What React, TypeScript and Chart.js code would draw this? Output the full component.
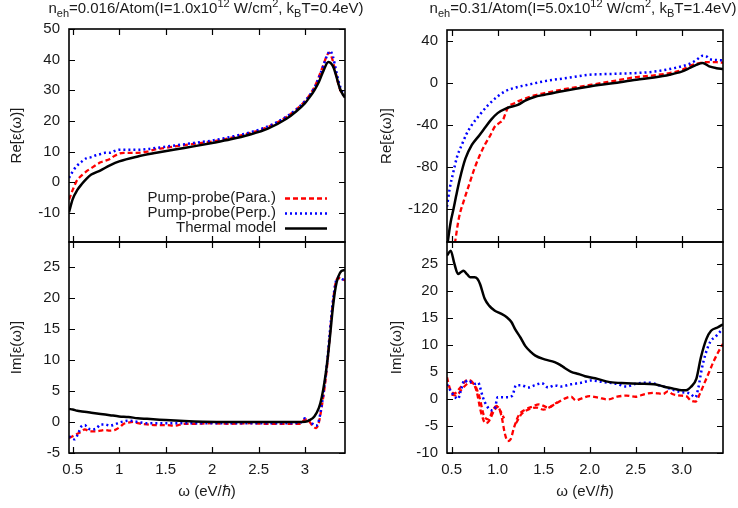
import React, { useEffect, useRef } from "react";
import { Chart, registerables } from "chart.js";
Chart.register(...registerables);

const CW = 738;
const CH = 508;
const FONT = "'Liberation Sans', Arial, Helvetica, sans-serif";

// ---------- tick labels ----------
const LEFT_X_TICKS = [0.5, 1, 1.5, 2, 2.5, 3];
const RIGHT_X_TICKS = [0.5, 1.0, 1.5, 2.0, 2.5, 3.0];
const LT_Y_TICKS = [-10, 0, 10, 20, 30, 40, 50];
const LB_Y_TICKS = [-5, 0, 5, 10, 15, 20, 25];
const RT_Y_TICKS = [-120, -80, -40, 0, 40];
const RB_Y_TICKS = [-10, -5, 0, 5, 10, 15, 20, 25];

// ---------- left top: Re, low excitation ----------
const LT_THERMAL_X = [0.46, 0.5, 0.55, 0.6, 0.65, 0.7, 0.8, 0.9, 1.0, 1.2, 1.4, 1.6, 1.8, 2.0, 2.2, 2.4, 2.6, 2.8, 2.9, 3.0, 3.05, 3.1, 3.15, 3.2, 3.25, 3.28, 3.31, 3.34, 3.37, 3.4, 3.43];
const LT_THERMAL_Y = [-9.8, -5.5, -2.5, -0.5, 1.2, 2.5, 3.9, 5.5, 6.8, 8.4, 9.6, 10.7, 11.7, 12.8, 14.0, 15.5, 17.5, 20.7, 23.0, 25.8, 27.8, 30.0, 32.8, 36.5, 39.2, 38.8, 37.2, 34.2, 31.0, 29.0, 27.6];
const LT_PARA_X = [0.46, 0.5, 0.54, 0.6, 0.65, 0.7, 0.75, 0.8, 0.85, 0.9, 0.95, 1.0, 1.05, 1.1, 1.2, 1.3, 1.4, 1.5, 1.6, 1.8, 2.0, 2.2, 2.4, 2.6, 2.8, 2.9, 3.0, 3.05, 3.1, 3.15, 3.2, 3.23, 3.26, 3.29, 3.32, 3.35, 3.38, 3.43];
const LT_PARA_Y = [-5.7, -2.5, 0.3, 2.3, 3.6, 4.6, 5.6, 6.5, 7.0, 7.6, 8.6, 9.4, 9.6, 9.6, 9.6, 10.0, 10.8, 11.2, 11.7, 12.5, 13.3, 14.5, 16.0, 18.0, 21.3, 23.6, 26.5, 28.5, 31.0, 34.5, 38.5, 41.0, 42.3, 40.5, 37.0, 33.0, 30.0, 27.8];
const LT_PERP_X = [0.46, 0.5, 0.54, 0.6, 0.65, 0.7, 0.75, 0.8, 0.85, 0.9, 0.95, 1.0, 1.1, 1.2, 1.3, 1.4, 1.5, 1.6, 1.8, 2.0, 2.2, 2.4, 2.6, 2.8, 2.9, 3.0, 3.05, 3.1, 3.15, 3.2, 3.24, 3.27, 3.3, 3.33, 3.36, 3.4, 3.43];
const LT_PERP_Y = [1.4, 3.5, 5.2, 6.8, 7.9, 8.2, 8.8, 9.2, 9.6, 9.6, 10.2, 10.6, 10.6, 10.6, 10.8, 11.2, 11.6, 12.0, 12.8, 13.6, 14.8, 16.2, 18.2, 21.4, 23.6, 26.5, 28.4, 30.8, 34.2, 38.3, 41.5, 42.8, 41.0, 37.0, 33.0, 29.5, 27.8];

// ---------- left bottom: Im, low excitation ----------
const LB_THERMAL_X = [0.46, 0.5, 0.55, 0.6, 0.65, 0.7, 0.8, 0.9, 1.0, 1.1, 1.2, 1.3, 1.4, 1.5, 1.7, 1.9, 2.2, 2.6, 2.9, 3.0, 3.05, 3.1, 3.15, 3.18, 3.21, 3.24, 3.27, 3.3, 3.33, 3.36, 3.39, 3.43];
const LB_THERMAL_Y = [2.1, 2.0, 1.8, 1.7, 1.6, 1.5, 1.3, 1.1, 0.9, 0.8, 0.6, 0.5, 0.4, 0.3, 0.15, 0.05, 0, 0, 0, 0.05, 0.3, 0.9, 2.3, 4.0, 6.5, 9.8, 14.0, 18.5, 21.8, 23.5, 24.3, 24.5];
const LB_PARA_X = [0.46, 0.5, 0.55, 0.6, 0.63, 0.68, 0.75, 0.8, 0.85, 0.9, 0.95, 1.0, 1.05, 1.1, 1.15, 1.2, 1.3, 1.4, 1.5, 1.6, 1.7, 1.8, 2.0, 2.2, 2.4, 2.6, 2.8, 2.95, 3.0, 3.04, 3.08, 3.12, 3.15, 3.18, 3.21, 3.24, 3.27, 3.3, 3.33, 3.36, 3.4, 3.43];
const LB_PARA_Y = [-2.6, -2.3, -1.9, -1.5, -1.2, -1.5, -1.5, -1.4, -1.3, -1.4, -1.3, -0.9, -0.3, -0.1, 0.0, -0.2, -0.4, -0.5, -0.5, -0.6, -0.3, -0.3, -0.2, -0.3, -0.2, -0.3, -0.3, -0.3, 0.4, 0.2, -0.6, -1.0, 0.0, 2.5, 5.5, 9.4, 14.5, 19.2, 22.5, 23.2, 23.0, 22.8];
const LB_PERP_X = [0.46, 0.49, 0.52, 0.56, 0.6, 0.63, 0.66, 0.7, 0.75, 0.8, 0.85, 0.9, 0.95, 1.0, 1.05, 1.1, 1.2, 1.3, 1.5, 1.7, 2.0, 2.4, 2.8, 2.95, 3.0, 3.04, 3.08, 3.12, 3.15, 3.18, 3.21, 3.24, 3.27, 3.3, 3.33, 3.36, 3.4, 3.43];
const LB_PERP_Y = [-2.3, -2.6, -2.8, -1.8, -0.6, -0.5, -1.0, -1.2, -1.1, -0.4, -0.4, -0.6, -0.4, -0.1, 0.1, 0.2, 0.0, -0.2, -0.2, -0.2, -0.2, -0.2, -0.2, -0.1, 0.6, 0.3, -0.3, -0.6, 0.3, 2.8, 6.0, 10.0, 15.0, 19.5, 22.5, 23.3, 23.0, 22.8];

// ---------- right top: Re, high excitation ----------
const RT_THERMAL_X = [0.44, 0.46, 0.49, 0.52, 0.55, 0.59, 0.65, 0.72, 0.8, 0.86, 0.93, 1.0, 1.1, 1.22, 1.3, 1.4, 1.51, 1.7, 2.0, 2.25, 2.51, 2.7, 2.87, 3.0, 3.09, 3.16, 3.23, 3.3, 3.38, 3.45];
const RT_THERMAL_Y = [-165, -150, -132, -120, -107, -91, -72, -59, -50, -43, -35, -28.8, -24, -20.9, -17, -13.5, -11.4, -8, -3.5, -0.5, 2.9, 5.0, 7.6, 10.5, 14, 17, 18.7, 15.5, 13.8, 13.0];
const RT_PARA_X = [0.5, 0.54, 0.58, 0.64, 0.7, 0.75, 0.8, 0.86, 0.92, 0.97, 1.02, 1.06, 1.09, 1.12, 1.17, 1.22, 1.3, 1.4, 1.51, 1.7, 2.02, 2.25, 2.51, 2.7, 2.87, 3.0, 3.09, 3.16, 3.23, 3.3, 3.38, 3.45];
const RT_PARA_Y = [-175, -150, -128, -110, -94, -81, -70, -59, -50, -41.5, -38, -35, -28, -22.5, -20, -17.7, -15, -12, -9.8, -6.5, -1.9, 1.5, 5.4, 7.0, 9.2, 12, 16, 18, 19.3, 19.6, 19.5, 19.0];
const RT_PERP_X = [0.45, 0.48, 0.52, 0.56, 0.61, 0.66, 0.72, 0.8, 0.9, 1.0, 1.08, 1.2, 1.33, 1.5, 1.75, 2.0, 2.25, 2.51, 2.7, 2.87, 3.0, 3.09, 3.16, 3.23, 3.27, 3.3, 3.38, 3.45];
const RT_PERP_Y = [-117.5, -100, -84.3, -70, -59, -49, -40, -31, -20.9, -13, -8.2, -4.5, -1.9, 1.3, 4.5, 7.6, 8.4, 9.2, 10.5, 13, 15.5, 18, 21.5, 25.7, 25, 22.6, 21.5, 21.2];

// ---------- right bottom: Im, high excitation ----------
const RB_THERMAL_X = [0.45, 0.49, 0.53, 0.57, 0.6, 0.63, 0.67, 0.7, 0.75, 0.78, 0.81, 0.86, 0.91, 0.97, 1.03, 1.1, 1.15, 1.19, 1.25, 1.3, 1.36, 1.41, 1.51, 1.62, 1.68, 1.73, 1.8, 1.88, 1.95, 2.06, 2.22, 2.4, 2.54, 2.7, 2.76, 2.85, 2.91, 3.0, 3.05, 3.1, 3.16, 3.21, 3.27, 3.32, 3.39, 3.45];
const RB_THERMAL_Y = [26.5, 27.4, 25.0, 23.1, 23.4, 23.7, 23.0, 22.5, 22.5, 22.2, 21.2, 18.5, 17.2, 16.3, 15.8, 15.1, 14.2, 12.9, 11.3, 9.8, 8.7, 8.0, 7.3, 6.8, 6.3, 5.7, 5.0, 4.6, 4.2, 3.8, 3.1, 2.9, 2.8, 2.7, 2.5, 2.1, 1.9, 1.6, 1.6, 2.2, 3.7, 7.7, 11.1, 12.6, 13.2, 13.8];
const RB_PERP_X = [0.45, 0.5, 0.54, 0.57, 0.6, 0.64, 0.68, 0.72, 0.76, 0.79, 0.81, 0.84, 0.88, 0.93, 0.97, 1.0, 1.06, 1.11, 1.16, 1.2, 1.26, 1.33, 1.4, 1.48, 1.55, 1.62, 1.69, 1.8, 1.91, 2.02, 2.15, 2.29, 2.4, 2.5, 2.65, 2.76, 2.87, 2.98, 3.09, 3.15, 3.18, 3.22, 3.26, 3.31, 3.38, 3.45];
const RB_PERP_Y = [2.7, 1.2, 0.3, 0.0, 1.5, 3.5, 3.0, 3.2, 2.8, 3.0, 2.1, 0.3, -1.2, -2.1, -1.8, 0.3, 0.3, 0.3, 0.6, 2.5, 2.5, 2.1, 2.5, 2.9, 2.1, 2.5, 2.3, 2.7, 3.0, 3.4, 3.1, 2.8, 2.3, 2.8, 3.0, 2.5, 1.9, 1.3, 1.0, 0.3, 1.9, 5.6, 8.3, 10.5, 11.7, 13.0];
const RB_PARA_X = [0.45, 0.48, 0.53, 0.6, 0.67, 0.72, 0.77, 0.82, 0.87, 0.91, 0.96, 1.0, 1.04, 1.08, 1.11, 1.14, 1.18, 1.23, 1.3, 1.38, 1.45, 1.5, 1.55, 1.62, 1.7, 1.75, 1.8, 1.85, 1.9, 2.0, 2.1, 2.2, 2.3, 2.4, 2.5, 2.6, 2.7, 2.8, 2.85, 2.9, 3.0, 3.05, 3.1, 3.15, 3.2, 3.25, 3.3, 3.35, 3.4, 3.45];
const RB_PARA_Y = [4.0, 2.0, 1.0, 2.2, 3.5, 3.2, 1.5, -2.5, -4.5, -4.0, -2.2, -1.5, -3.0, -6.5, -7.8, -7.5, -5.2, -3.0, -2.0, -1.4, -1.0, -1.3, -1.6, -1.0, -0.2, 0.2, 0.4, -0.3, 0.0, 0.5, 0.2, -0.1, 0.4, 0.6, 0.4, 0.9, 1.1, 0.9, 1.4, 0.9, 0.6, 0.5, -0.3, -0.5, 1.0, 3.0, 5.0, 7.0, 8.7, 10.2];
const RB_PARA2_X = [0.5, 0.55, 0.62, 0.7, 0.75, 0.8, 0.85, 0.9, 0.95, 0.99, 1.03, 1.07, 1.13, 1.2, 1.26, 1.33, 1.42, 1.5, 1.57, 1.65];
const RB_PARA2_Y = [0.8, 0.6, 2.0, 3.0, 2.6, 0.5, -3.0, -3.8, -2.0, -1.3, -2.2, -3.6, null, -4.5, -2.8, -2.0, -1.6, -2.0, -1.5, -0.6];

const LEGEND_LABELS = ["Pump-probe(Para.)", "Pump-probe(Perp.)", "Thermal model"];

type Seg = [string, number];
const TITLE_LEFT: Seg[] = [["n", 0], ["eh", -1], ["=0.016/Atom(I=1.0x10", 0], ["12", 1], [" W/cm", 0], ["2", 1], [", k", 0], ["B", -1], ["T=0.4eV)", 0]];
const TITLE_RIGHT: Seg[] = [["n", 0], ["eh", -1], ["=0.31/Atom(I=5.0x10", 0], ["12", 1], [" W/cm", 0], ["2", 1], [", k", 0], ["B", -1], ["T=1.4eV)", 0]];

const RED = "#ff0000";
const BLUE = "#0000ff";
const BLACK = "#000000";
const TXT = "#1a1a1a";
const FS = 15;

function pts(xs: number[], ys: (number | null)[]) {
  return xs.map((x, i) => ({ x, y: ys[i] }));
}

function redDs(xs: number[], ys: (number | null)[]) {
  return { data: pts(xs, ys), borderColor: RED, borderWidth: 2.3, borderDash: [5, 3], order: 2 };
}
function blueDs(xs: number[], ys: (number | null)[]) {
  return { data: pts(xs, ys), borderColor: BLUE, borderWidth: 2.5, borderDash: [2, 3], order: 1 };
}
function blackDs(xs: number[], ys: (number | null)[]) {
  return { data: pts(xs, ys), borderColor: BLACK, borderWidth: 2.5, order: 0 };
}

type Panel = {
  area: { l: number; t: number; r: number; b: number };
  yW: number;
  xMin: number;
  xMax: number;
  yMin: number;
  yMax: number;
  xTicks: number[];
  yTicks: number[];
  xFmt: (v: number) => string;
  showX: boolean;
  yTitle: string;
  yTitlePad: number;
  datasets: any[];
  title?: { segs: Seg[]; cx: number; y: number };
  legend?: boolean;
};

function drawRich(ctx: CanvasRenderingContext2D, segs: Seg[], cx: number, y: number) {
  const main = `${FS}px ${FONT}`;
  const small = `11px ${FONT}`;
  let total = 0;
  for (const [t, m] of segs) {
    ctx.font = m === 0 ? main : small;
    total += ctx.measureText(t).width;
  }
  let x = cx - total / 2;
  ctx.textAlign = "left";
  ctx.textBaseline = "alphabetic";
  ctx.fillStyle = TXT;
  for (const [t, m] of segs) {
    ctx.font = m === 0 ? main : small;
    const dy = m === 1 ? -6 : m === -1 ? 4 : 0;
    ctx.fillText(t, x, y + dy);
    x += ctx.measureText(t).width;
  }
}

const framePlugin = {
  id: "gnuFrame",
  afterDraw(chart: any, _args: any, opts: any) {
    const p: Panel = opts.panel;
    if (!p) return;
    const ctx = chart.ctx as CanvasRenderingContext2D;
    const { left, right, top, bottom } = chart.chartArea;
    const xs = chart.scales.x;
    const ys = chart.scales.y;
    const TL = 6;
    ctx.save();
    ctx.strokeStyle = "#000";
    ctx.lineWidth = 1.2;
    ctx.beginPath();
    for (const v of p.xTicks) {
      const px = Math.round(xs.getPixelForValue(v)) + 0.5;
      ctx.moveTo(px, top);
      ctx.lineTo(px, top + TL);
      ctx.moveTo(px, bottom);
      ctx.lineTo(px, bottom - TL);
    }
    for (const v of p.yTicks) {
      const py = Math.round(ys.getPixelForValue(v)) + 0.5;
      ctx.moveTo(left, py);
      ctx.lineTo(left + TL, py);
      ctx.moveTo(right, py);
      ctx.lineTo(right - TL, py);
    }
    ctx.stroke();
    ctx.lineWidth = 1.6;
    ctx.strokeRect(left, top, right - left, bottom - top);

    if (p.title) drawRich(ctx, p.title.segs, p.title.cx, p.title.y);

    if (p.legend) {
      const rows = [
        { label: LEGEND_LABELS[0], color: RED, dash: [5, 3], w: 2.3 },
        { label: LEGEND_LABELS[1], color: BLUE, dash: [2, 3], w: 2.5 },
        { label: LEGEND_LABELS[2], color: BLACK, dash: [], w: 2.5 },
      ];
      const ysPos = [198, 213, 228];
      ctx.font = `${FS}px ${FONT}`;
      ctx.textAlign = "right";
      ctx.textBaseline = "middle";
      rows.forEach((r, i) => {
        ctx.fillStyle = TXT;
        ctx.fillText(r.label, 276, ysPos[i]);
        ctx.beginPath();
        ctx.setLineDash(r.dash);
        ctx.strokeStyle = r.color;
        ctx.lineWidth = r.w;
        ctx.moveTo(285, ysPos[i] + 0.5);
        ctx.lineTo(327, ysPos[i] + 0.5);
        ctx.stroke();
      });
      ctx.setLineDash([]);
    }
    ctx.restore();
  },
};

function makeConfig(p: Panel): any {
  const xH = p.showX ? 50 : 0;
  return {
    type: "line",
    data: { datasets: p.datasets },
    plugins: [framePlugin],
    options: {
      animation: false,
      responsive: false,
      devicePixelRatio: 1,
      events: [],
      layout: {
        padding: {
          left: p.area.l - p.yW,
          top: p.area.t,
          right: CW - p.area.r,
          bottom: CH - p.area.b - xH,
        },
      },
      elements: {
        point: { radius: 0 },
        line: { cubicInterpolationMode: "monotone", borderCapStyle: "butt", fill: false },
      },
      plugins: {
        legend: { display: false },
        tooltip: { enabled: false },
        title: { display: false },
        gnuFrame: { panel: p },
      },
      scales: {
        x: {
          type: "linear",
          min: p.xMin,
          max: p.xMax,
          display: p.showX,
          grid: { display: false, drawTicks: false },
          border: { display: false },
          afterBuildTicks: (s: any) => {
            s.ticks = p.xTicks.map((v) => ({ value: v }));
          },
          afterFit: (s: any) => {
            s.height = xH;
          },
          ticks: {
            autoSkip: false,
            maxRotation: 0,
            padding: 8,
            color: TXT,
            font: { family: FONT, size: FS },
            callback: (v: number) => p.xFmt(v),
          },
          title: {
            display: p.showX,
            text: "ω (eV/ℏ)",
            color: TXT,
            font: { family: FONT, size: FS },
            padding: { top: 0, bottom: 2 },
          },
        },
        y: {
          type: "linear",
          min: p.yMin,
          max: p.yMax,
          grid: { display: false, drawTicks: false },
          border: { display: false },
          afterBuildTicks: (s: any) => {
            s.ticks = p.yTicks.map((v) => ({ value: v }));
          },
          afterFit: (s: any) => {
            s.width = p.yW;
          },
          ticks: {
            autoSkip: false,
            padding: 9,
            color: TXT,
            font: { family: FONT, size: FS },
            callback: (v: number) => String(v),
          },
          title: {
            display: true,
            text: p.yTitle,
            color: TXT,
            font: { family: FONT, size: FS },
            padding: { top: p.yTitlePad, bottom: 0 },
          },
        },
      },
    },
  };
}

const PANELS: Panel[] = [
  {
    area: { l: 69, t: 29, r: 345, b: 242 },
    yW: 69,
    xMin: 0.46,
    xMax: 3.43,
    yMin: -19.5,
    yMax: 50,
    xTicks: LEFT_X_TICKS,
    yTicks: LT_Y_TICKS,
    xFmt: (v) => String(v),
    showX: false,
    yTitle: "Re[ε(ω)]",
    yTitlePad: 8,
    datasets: [redDs(LT_PARA_X, LT_PARA_Y), blueDs(LT_PERP_X, LT_PERP_Y), blackDs(LT_THERMAL_X, LT_THERMAL_Y)],
    title: { segs: TITLE_LEFT, cx: 206, y: 13 },
    legend: true,
  },
  {
    area: { l: 69, t: 242, r: 345, b: 453 },
    yW: 69,
    xMin: 0.46,
    xMax: 3.43,
    yMin: -5,
    yMax: 29,
    xTicks: LEFT_X_TICKS,
    yTicks: LB_Y_TICKS,
    xFmt: (v) => String(v),
    showX: true,
    yTitle: "Im[ε(ω)]",
    yTitlePad: 8,
    datasets: [redDs(LB_PARA_X, LB_PARA_Y), blueDs(LB_PERP_X, LB_PERP_Y), blackDs(LB_THERMAL_X, LB_THERMAL_Y)],
  },
  {
    area: { l: 447, t: 30, r: 723, b: 242 },
    yW: 77,
    xMin: 0.45,
    xMax: 3.45,
    yMin: -151,
    yMax: 50,
    xTicks: RIGHT_X_TICKS,
    yTicks: RT_Y_TICKS,
    xFmt: (v) => v.toFixed(1),
    showX: false,
    yTitle: "Re[ε(ω)]",
    yTitlePad: 8,
    datasets: [redDs(RT_PARA_X, RT_PARA_Y), blueDs(RT_PERP_X, RT_PERP_Y), blackDs(RT_THERMAL_X, RT_THERMAL_Y)],
    title: { segs: TITLE_RIGHT, cx: 583, y: 13 },
  },
  {
    area: { l: 447, t: 242, r: 723, b: 453 },
    yW: 77,
    xMin: 0.45,
    xMax: 3.45,
    yMin: -10,
    yMax: 29,
    xTicks: RIGHT_X_TICKS,
    yTicks: RB_Y_TICKS,
    xFmt: (v) => v.toFixed(1),
    showX: true,
    yTitle: "Im[ε(ω)]",
    yTitlePad: 18,
    datasets: [
      redDs(RB_PARA_X, RB_PARA_Y),
      redDs(RB_PARA2_X, RB_PARA2_Y),
      blueDs(RB_PERP_X, RB_PERP_Y),
      blackDs(RB_THERMAL_X, RB_THERMAL_Y),
    ],
  },
];

function PanelCanvas({ panel }: { panel: Panel }) {
  const ref = useRef<HTMLCanvasElement | null>(null);
  useEffect(() => {
    if (!ref.current) return;
    const chart = new Chart(ref.current, makeConfig(panel));
    return () => chart.destroy();
  }, [panel]);
  return (
    <canvas
      ref={ref}
      width={CW}
      height={CH}
      style={{ position: "absolute", left: 0, top: 0, width: CW, height: CH }}
    />
  );
}

export default function App() {
  return (
    <div style={{ position: "fixed", left: 0, top: 0, width: CW, height: CH, background: "#fff" }}>
      {PANELS.map((p, i) => (
        <PanelCanvas key={i} panel={p} />
      ))}
    </div>
  );
}
